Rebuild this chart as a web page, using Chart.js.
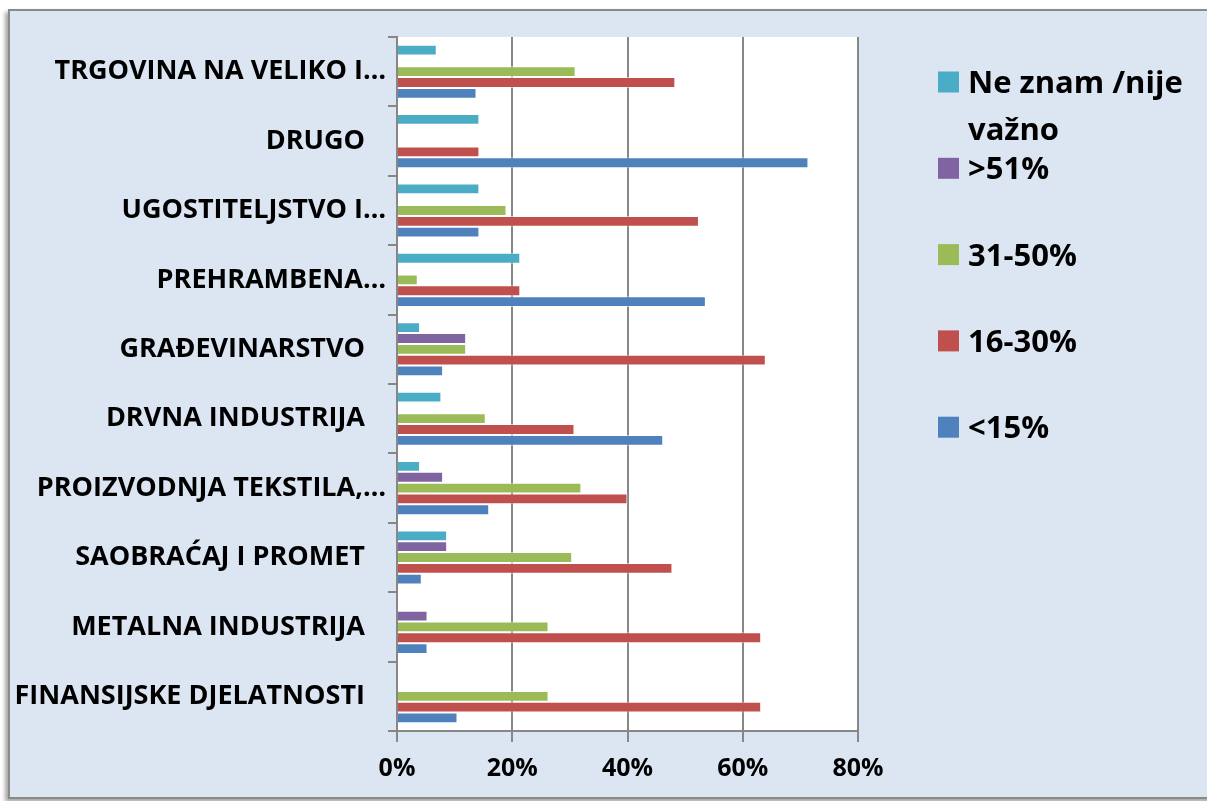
<!DOCTYPE html>
<html>
<head>
<meta charset="utf-8">
<script src="https://cdn.jsdelivr.net/npm/chart.js@4.4.1/dist/chart.umd.min.js"></script>
<style>
  html, body { margin: 0; padding: 0; background: #fff; }
  body { width: 1207px; height: 801px; position: relative; overflow: hidden; }
  #frame {
    position: absolute; left: 8px; top: 9px; width: 1220px; height: 786px;
    background: #dce6f2; border: 2px solid #8a8a8a;
    box-shadow: -3px 3px 4px rgba(0, 0, 0, 0.35);
  }
  #chart { position: absolute; left: 0; top: 0; }
</style>
</head>
<body>
<div id="frame"></div>
<canvas id="chart" width="1207" height="801"></canvas>
<script>
// categories, top to bottom
const categories = [
    'TRGOVINA NA VELIKO I…',
    'DRUGO   ',
    'UGOSTITELJSTVO I…',
    'PREHRAMBENA…',
    'GRAĐEVINARSTVO   ',
    'DRVNA INDUSTRIJA   ',
    'PROIZVODNJA TEKSTILA,…',
    'SAOBRAĆAJ I PROMET   ',
    'METALNA INDUSTRIJA   ',
    'FINANSIJSKE DJELATNOSTI   '
];

const seriesNames = ['Ne znam /nije važno', '>51%', '31-50%', '16-30%', '<15%'];
const seriesColors = ['#4bacc6', '#8064a2', '#9bbb59', '#c0504d', '#4f81bd'];

// percentages
const neZnam  = [6.9, 14.3, 14.3, 21.4, 4.0, 7.7, 4.0, 8.7, 0, 0];
const over51  = [0, 0, 0, 0, 12.0, 0, 8.0, 8.7, 5.3, 0];
const p31to50 = [31.0, 0, 19.0, 3.6, 12.0, 15.4, 32.0, 30.4, 26.3, 26.3];
const p16to30 = [48.3, 14.3, 52.4, 21.4, 64.0, 30.8, 40.0, 47.8, 63.2, 63.2];
const under15 = [13.8, 71.4, 14.3, 53.6, 8.0, 46.2, 16.0, 4.3, 5.3, 10.5];

const xTicks = [0, 20, 40, 60, 80];

const seriesValues = [neZnam, over51, p31to50, p16to30, under15];
const gridGray = '#878787';
const catFont = { family: 'Open Sans', size: 27, weight: 'bold' };
const pctFont = { family: 'Open Sans', size: 25, weight: 'bold' };

// white plot area
const plotBg = {
    id: 'plotBg',
    beforeDraw(chart) {
        const { ctx, chartArea: a } = chart;
        ctx.save();
        ctx.fillStyle = '#ffffff';
        ctx.fillRect(a.left, a.top, a.width, a.height);
        ctx.restore();
    }
};

// legend drawn like the spreadsheet one: square + bold text, fixed row spacing
const sideLegend = {
    id: 'sideLegend',
    afterDraw(chart, args, opts) {
        const ctx = chart.ctx;
        ctx.save();
        ctx.font = 'bold 31px "Open Sans"';
        ctx.textBaseline = 'alphabetic';
        chart.data.datasets.forEach(function(ds, i) {
            const cy = opts.top + i * opts.step;
            ctx.fillStyle = ds.backgroundColor;
            ctx.fillRect(opts.x, cy - 10.5, 21, 21);
            // wrap the text if too long
            const words = ds.label.split(' ');
            const lines = [];
            let line = '';
            words.forEach(function(w) {
                const t = line ? line + ' ' + w : w;
                if (ctx.measureText(t).width > opts.maxWidth && line) {
                    lines.push(line);
                    line = w;
                } else {
                    line = t;
                }
            });
            lines.push(line);
            ctx.fillStyle = '#000';
            lines.forEach(function(l, j) {
                ctx.fillText(l, opts.x + 30, cy + 11 + j * 47);
            });
        });
        ctx.restore();
    }
};

new Chart(document.getElementById('chart').getContext('2d'), {
    type: 'bar',
    data: {
        labels: categories,
        datasets: seriesNames.map(function(name, i) {
            return {
                label: name,
                data: seriesValues[i],
                backgroundColor: seriesColors[i],
                borderColor: 'rgba(255,255,255,0.55)',
                borderWidth: 1,
                barPercentage: 1,
                categoryPercentage: 0.78
            };
        })
    },
    options: {
        indexAxis: 'y',
        responsive: false,
        animation: false,
        layout: { padding: { top: 37, right: 349, bottom: 0, left: 0 } },
        plugins: {
            legend: { display: false },
            tooltip: { enabled: false },
            sideLegend: { x: 938, top: 82, step: 86.3, maxWidth: 235 }
        },
        scales: {
            x: {
                min: 0,
                max: 80,
                afterBuildTicks: function(s) { s.ticks = xTicks.map(v => ({ value: v })); },
                afterFit: function(s) { s.height = 70; },
                ticks: {
                    callback: v => v + '%',
                    font: pctFont,
                    color: '#000',
                    padding: 12
                },
                grid: { color: gridGray, lineWidth: 2, tickLength: 11 },
                border: { color: gridGray, width: 2 }
            },
            y: {
                afterFit: function(s) { s.width = 397; },
                ticks: { font: catFont, color: '#000', padding: 2, autoSkip: false },
                grid: { drawOnChartArea: false, tickLength: 9, color: gridGray, lineWidth: 2 },
                border: { color: gridGray, width: 2 }
            }
        }
    },
    plugins: [plotBg, sideLegend]
});
</script>
</body>
</html>
